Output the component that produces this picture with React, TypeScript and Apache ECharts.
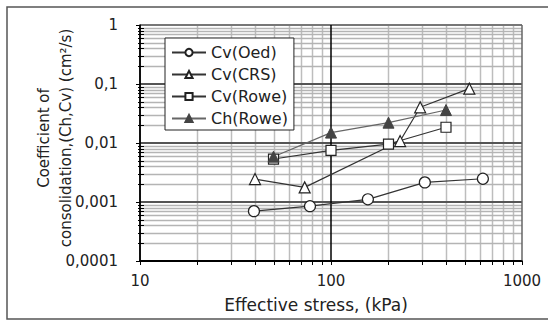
import React, { useEffect, useRef } from "react";
import * as echarts from "echarts";

// ---- data ----
const seriesNames = ["Cv(Oed)", "Cv(CRS)", "Cv(Rowe)", "Ch(Rowe)"];

const oedStress = [39.5, 77.6, 156, 310, 624];
const oedCv = [0.0007, 0.00085, 0.00111, 0.00215, 0.00248];

const crsStress = [40, 72.8, 230, 293, 530];
const crsCv = [0.00245, 0.00177, 0.0108, 0.0403, 0.0833];

const roweStress = [50, 100, 200, 400];
const roweCv = [0.00535, 0.0075, 0.0096, 0.0185];
const roweCh = [0.00586, 0.015, 0.0221, 0.0362];

const xMinorTicks = [20, 30, 40, 50, 60, 70, 80, 90, 200, 300, 400, 500, 600, 700, 800, 900];
const yMinorTicks = [
  0.0002, 0.0003, 0.0004, 0.0005, 0.0006, 0.0007, 0.0008, 0.0009,
  0.002, 0.003, 0.004, 0.005, 0.006, 0.007, 0.008, 0.009,
  0.02, 0.03, 0.04, 0.05, 0.06, 0.07, 0.08, 0.09,
  0.2, 0.3, 0.4, 0.5, 0.6, 0.7, 0.8, 0.9,
];

const X_MIN = 10;
const X_MAX = 1000;
const Y_MIN = 0.0001;
const Y_MAX = 1;

const xAxisTitle = "Effective stress, (kPa)";
const yAxisTitle = "Coefficient of\nconsolidation,(Ch,Cv) (cm²/s)";

const FONT = "DejaVu Sans";

function zip(xs: number[], ys: number[]) {
  return xs.map((x, i) => [x, ys[i]]);
}

function fmtY(v: number) {
  const e = Math.round(Math.log10(v));
  if (e >= 0) return String(Math.round(v));
  return v.toFixed(-e).replace(".", ",");
}

function fmtX(v: number) {
  return String(Math.round(v));
}

const snap = (v: number) => Math.round(v) + 0.5;

export default function App() {
  const ref = useRef<HTMLDivElement>(null);
  useEffect(() => {
    document.body.style.margin = "0";
    const chart = echarts.init(ref.current!, null, { renderer: "svg" });

    const markerStyle = (fill: string) => ({
      color: fill,
      borderColor: "#222",
      borderWidth: 1.2,
    });

    const option: any = {
      animation: false,
      backgroundColor: "#fff",
      grid: { left: 140, top: 25, width: 382, height: 236 },
      legend: {
        data: seriesNames,
        orient: "vertical",
        left: 165,
        top: 38,
        backgroundColor: "#fff",
        borderColor: "#222",
        borderWidth: 1,
        borderRadius: 0,
        padding: [6, 6, 3, 6],
        itemWidth: 34,
        itemHeight: 9,
        itemGap: 5,
        textStyle: { fontFamily: FONT, fontSize: 16, color: "#222", lineHeight: 17 },
        z: 20,
      },
      xAxis: {
        type: "log",
        logBase: 10,
        min: X_MIN,
        max: X_MAX,
        axisLine: { show: true, lineStyle: { color: "#000", width: 1.5 } },
        axisTick: { show: true, length: 4, lineStyle: { color: "#000" } },
        axisLabel: { fontFamily: FONT, fontSize: 15, color: "#222", margin: 12, formatter: fmtX },
        splitLine: { show: true, lineStyle: { color: ["#000", "#000", "#666"], width: 1.5 } },
        z: 3,
      },
      yAxis: {
        type: "log",
        logBase: 10,
        min: Y_MIN,
        max: Y_MAX,
        axisLine: { show: true, lineStyle: { color: "#000", width: 1.5 } },
        axisTick: { show: true, length: 4, lineStyle: { color: "#000" } },
        axisLabel: { fontFamily: FONT, fontSize: 15, color: "#222", margin: 22, formatter: fmtY },
        splitLine: {
          show: true,
          lineStyle: { color: ["#000", "#555", "#555", "#555", "#777"], width: 1.8 },
        },
        z: 3,
      },
      series: [
        {
          name: "xMinorGrid",
          type: "custom",
          silent: true,
          clip: false,
          z: 1,
          data: xMinorTicks.map((v) => [v, Y_MAX]),
          encode: { x: 0, y: 1 },
          renderItem: (params: any, api: any) => {
            const x = api.value(0);
            const top = api.coord([x, Y_MAX]);
            const bot = api.coord([x, Y_MIN]);
            const px = snap(top[0]);
            return {
              type: "group",
              children: [
                {
                  type: "line",
                  shape: { x1: px, y1: top[1], x2: px, y2: bot[1] },
                  style: { stroke: "#bdbdbd", lineWidth: 1.5 },
                },
                {
                  type: "line",
                  shape: { x1: px, y1: bot[1], x2: px, y2: bot[1] + 4 },
                  style: { stroke: "#000", lineWidth: 1 },
                },
              ],
            };
          },
        },
        {
          name: "Cv(Oed)",
          type: "line",
          data: zip(oedStress, oedCv),
          symbol: "circle",
          symbolSize: 11,
          lineStyle: { color: "#333", width: 1.2 },
          itemStyle: markerStyle("#fff"),
          z: 5,
        },
        {
          name: "Cv(CRS)",
          type: "line",
          data: zip(crsStress, crsCv),
          symbol: "triangle",
          symbolSize: 11,
          lineStyle: { color: "#333", width: 1.2 },
          itemStyle: markerStyle("#fff"),
          z: 5,
        },
        {
          name: "Cv(Rowe)",
          type: "line",
          data: zip(roweStress, roweCv),
          symbol: "rect",
          symbolSize: 10,
          lineStyle: { color: "#333", width: 1.2 },
          itemStyle: markerStyle("#fff"),
          z: 5,
        },
        {
          name: "Ch(Rowe)",
          type: "line",
          data: zip(roweStress, roweCh),
          symbol: "triangle",
          symbolSize: 11,
          lineStyle: { color: "#666", width: 1.2 },
          itemStyle: { color: "#444", borderColor: "#444", borderWidth: 1 },
          z: 5,
        },
      ],
    };
    chart.setOption(option);

    // horizontal minor grid lines + left minor ticks, positioned through the chart's own y scale
    const hLines: any[] = [];
    yMinorTicks.forEach((v) => {
      const l = chart.convertToPixel({ gridIndex: 0 }, [X_MIN, v]) as number[];
      const r = chart.convertToPixel({ gridIndex: 0 }, [X_MAX, v]) as number[];
      const py = snap(l[1]);
      hLines.push({
        type: "line",
        silent: true,
        z: 1,
        shape: { x1: l[0] + 1, y1: py, x2: r[0], y2: py },
        style: { stroke: "#b4b4b4", lineWidth: 1.5 },
      });
      hLines.push({
        type: "line",
        silent: true,
        z: 4,
        shape: { x1: l[0] - 2, y1: py, x2: l[0] + 4, y2: py },
        style: { stroke: "#000", lineWidth: 1 },
      });
    });

    chart.setOption({
      graphic: [
        {
          type: "group",
          silent: true,
          z: 1,
          children: hLines,
        },
        {
          type: "rect",
          shape: { x: 7, y: 7, width: 548, height: 312 },
          style: { fill: "none", stroke: "#555", lineWidth: 1.5 },
          silent: true,
          z: -10,
        },
        {
          type: "text",
          x: 316,
          y: 305,
          style: {
            text: xAxisTitle,
            fontFamily: FONT,
            fontSize: 17,
            fill: "#222",
            align: "center",
            verticalAlign: "middle",
          },
        },
        {
          type: "text",
          x: 55,
          y: 138,
          rotation: Math.PI / 2,
          style: {
            text: yAxisTitle,
            fontFamily: FONT,
            fontSize: 15,
            lineHeight: 22,
            fill: "#222",
            align: "center",
            verticalAlign: "middle",
          },
        },
      ],
    });
    return () => chart.dispose();
  }, []);
  return <div ref={ref} style={{ width: 548, height: 323 }} />;
}
